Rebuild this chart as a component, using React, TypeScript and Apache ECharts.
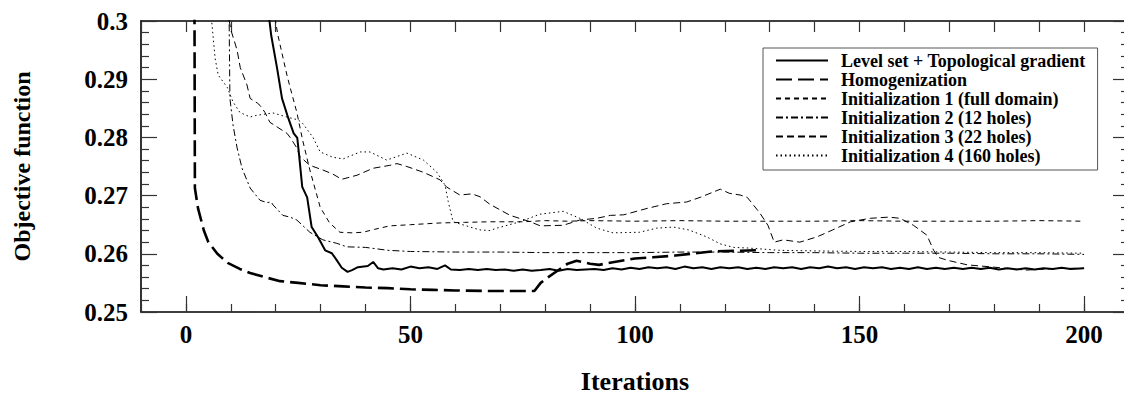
import React, { useEffect, useRef } from "react";
import * as echarts from "echarts";

const seriesNames = [
  "Level set + Topological gradient",
  "Homogenization",
  "Initialization 1 (full domain)",
  "Initialization 2 (12 holes)",
  "Initialization 3 (22 holes)",
  "Initialization 4 (160 holes)",
];

const xTickLabels = ["0", "50", "100", "150", "200"];
const yTickLabels = ["0.25", "0.26", "0.27", "0.28", "0.29", "0.3"];

const levelSet: number[][] = [
  [18.3, 0.302], [19, 0.2975], [20.3, 0.2919], [21.4, 0.2867], [22.8, 0.2833], [24, 0.2807],
  [24.8, 0.2799], [25.2, 0.277], [25.9, 0.2715], [27, 0.2697], [28, 0.2646], [29.4, 0.2629],
  [31, 0.2606], [32.5, 0.2601], [33.5, 0.259], [34.7, 0.2576], [36, 0.2569], [37, 0.2572],
  [38.3, 0.2577], [40.5, 0.2579], [41.7, 0.2586], [42.8, 0.2575], [44, 0.2573], [46, 0.2575],
  [48, 0.2573], [50, 0.2578], [52, 0.2575], [54, 0.2577], [56, 0.2574], [57.7, 0.258],
  [59, 0.2573], [61, 0.2572], [63, 0.2574], [65, 0.2572], [67, 0.2574], [69, 0.2572],
  [71, 0.2573], [73, 0.2571], [75, 0.2573], [77, 0.2571], [79, 0.2572], [81, 0.2574],
  [83, 0.2571], [85, 0.2574], [87, 0.2572], [89, 0.2573], [91, 0.2574], [93, 0.2572],
  [95, 0.2575], [97, 0.2573], [99, 0.2576], [101, 0.2574], [103, 0.2577], [105, 0.2575],
  [107, 0.2577], [109, 0.2574], [111, 0.2578], [113, 0.2575], [115, 0.2577], [117, 0.2574],
  [119, 0.2577], [121, 0.2575], [123, 0.2577], [125, 0.2574], [127, 0.2576], [129, 0.2574],
  [131, 0.2577], [133, 0.2575], [135, 0.2577], [137, 0.2574], [139, 0.2577], [141, 0.2575],
  [143, 0.2578], [145, 0.2575], [147, 0.2577], [149, 0.2574], [151, 0.2577], [153, 0.2575],
  [155, 0.2577], [157, 0.2574], [159, 0.2576], [161, 0.2574], [163, 0.2577], [165, 0.2574],
  [167, 0.2576], [169, 0.2574], [171, 0.2576], [173, 0.2574], [175, 0.2576], [177, 0.2574],
  [179, 0.2576], [181, 0.2573], [183, 0.2575], [185, 0.2573], [187, 0.2575], [189, 0.2573],
  [191, 0.2575], [193, 0.2574], [195, 0.2576], [197, 0.2574], [200, 0.2575],
];

const homogenization: number[][] = [
  [1.8, 0.34], [2, 0.2713], [2.7, 0.2678], [4, 0.264], [5, 0.262], [7, 0.26], [9.4, 0.2584],
  [12, 0.2574], [14.3, 0.2567], [18, 0.2559], [21, 0.2553], [25, 0.255], [30, 0.2546],
  [35, 0.2544], [40, 0.2542], [45, 0.2541], [50, 0.2539], [55, 0.2538], [60, 0.2537],
  [68, 0.2536], [77.6, 0.2536], [79, 0.255], [80.5, 0.2559], [85, 0.2583], [87, 0.2588],
  [90, 0.2583], [92, 0.2581], [94, 0.2584], [100, 0.2592], [104, 0.2594], [109, 0.2597],
  [117, 0.2604], [127, 0.2606],
];

const init1: number[][] = [
  [19.5, 0.302], [20.5, 0.2975], [22.5, 0.2907], [23.2, 0.2886], [24.7, 0.2843], [26, 0.2795],
  [27.6, 0.2744], [29.9, 0.268], [32, 0.2653], [34.3, 0.2637], [37, 0.2636], [39.4, 0.2637],
  [42, 0.2642], [45.4, 0.2648], [50, 0.265], [56.6, 0.2653], [62, 0.2654], [67.7, 0.2655],
  [75, 0.2655], [80, 0.2657], [85, 0.2656], [90, 0.2657], [100, 0.2656], [110, 0.2657],
  [120, 0.2656], [130, 0.2656], [140, 0.2656], [150, 0.2657], [160, 0.2656], [170, 0.2656],
  [180, 0.2656], [190, 0.2657], [200, 0.2656],
];

const init2: number[][] = [
  [9.6, 0.302], [9.8, 0.2867], [10.5, 0.2821], [11.4, 0.2782], [12.5, 0.2747], [14.3, 0.2713],
  [16.5, 0.2692], [18, 0.2688], [19, 0.2689], [19.4, 0.2684], [21.6, 0.2666], [23.2, 0.2663],
  [24.7, 0.2658], [27.6, 0.2637], [30.5, 0.2624], [33.6, 0.2618], [35.8, 0.2612], [40, 0.2611],
  [45, 0.2606], [50, 0.2604], [60, 0.2603], [70, 0.2603], [80, 0.2602], [90, 0.2602],
  [100, 0.2602], [110, 0.2603], [120, 0.2603], [130, 0.2602], [140, 0.2602], [150, 0.2601],
  [160, 0.2601], [170, 0.2601], [180, 0.26], [190, 0.26], [200, 0.2599],
];

const init3: number[][] = [
  [9.2, 0.302], [10, 0.2985], [11.4, 0.295], [12.1, 0.292], [13.6, 0.289], [14.3, 0.2867],
  [15.9, 0.2859], [16.5, 0.2855], [17.6, 0.2843], [18.7, 0.2826], [20.3, 0.2818], [22.5, 0.2807],
  [23.2, 0.28], [24.7, 0.2782], [25.4, 0.2767], [27.6, 0.2752], [30.5, 0.2744], [32.7, 0.2737],
  [34.7, 0.2728], [38.1, 0.2735], [41.7, 0.2747], [45.4, 0.2752], [47, 0.2755], [49.2, 0.275],
  [52.9, 0.274], [56.6, 0.2727], [58, 0.2715], [61, 0.2701], [63.7, 0.2703], [65.5, 0.2698],
  [67.7, 0.2685], [72.2, 0.2666], [76.7, 0.2655], [78.9, 0.2648], [84, 0.2649], [87.7, 0.2658],
  [91.5, 0.2661], [94.5, 0.2666], [97.5, 0.2667], [102.7, 0.2678], [107, 0.2686], [111.5, 0.2689],
  [114.5, 0.2697], [119, 0.2711], [121, 0.2704], [123.4, 0.2701], [125, 0.2697], [127.8, 0.267],
  [129.6, 0.2649], [131, 0.262], [133, 0.2624], [136.7, 0.262], [140.5, 0.2629], [144, 0.2641],
  [148, 0.2655], [152.4, 0.2661], [156.5, 0.2663], [159, 0.2661], [162, 0.2649], [165, 0.2632],
  [166.5, 0.2606], [167.5, 0.2594], [169.5, 0.2589], [174, 0.2581], [180, 0.2577], [187, 0.2572],
  [194.7, 0.2575], [200, 0.2575],
];

const init4: number[][] = [
  [5.5, 0.302], [6.5, 0.2936], [7.2, 0.2907], [9.2, 0.2886], [10.5, 0.2861], [12, 0.2843],
  [14.3, 0.2835], [15.8, 0.2838], [19.4, 0.2842], [22.5, 0.2835], [25, 0.283], [26, 0.2824],
  [28.3, 0.28], [29.9, 0.2775], [32.7, 0.2766], [35, 0.2763], [38.8, 0.2775], [41, 0.2775],
  [44.7, 0.2761], [49.2, 0.2773], [52.9, 0.2761], [55.9, 0.274], [57.7, 0.2718], [58.4, 0.269],
  [59.5, 0.2655], [63.3, 0.2646], [65.5, 0.2641], [67.7, 0.264], [69.2, 0.2644], [74.4, 0.2655],
  [78.8, 0.2668], [84, 0.2673], [87.7, 0.2661], [91.5, 0.2644], [95.1, 0.2636], [101, 0.2637],
  [104.8, 0.2644], [108.5, 0.2646], [112, 0.2641], [116, 0.2629], [119, 0.2617], [122, 0.2611],
  [125, 0.261], [128.6, 0.2608], [132, 0.2606], [140, 0.2605], [150, 0.2604], [160, 0.2604],
  [170, 0.2603], [180, 0.2602], [190, 0.2602], [200, 0.2601],
];

const FONT = "'Liberation Serif', 'Times New Roman', Times, serif";

export default function App() {
  const ref = useRef<HTMLDivElement>(null);

  useEffect(() => {
    if (!ref.current) return;
    const chart = echarts.init(ref.current, null, { renderer: "svg" });

    const seriesData = [levelSet, homogenization, init1, init2, init3, init4];
    const styles: any[] = [
      { width: 2, type: "solid" },
      { width: 2.6, type: [16, 6] },
      { width: 1, type: [5, 4] },
      { width: 1, type: [7, 3, 2, 3] },
      { width: 1, type: [7, 4] },
      { width: 1, type: [1.5, 3] },
    ];

    const tickStyle = { color: "#333", width: 1.2 };
    const axisLineStyle = { color: "#000", width: 1.6 };

    chart.setOption({
      animation: false,
      backgroundColor: "#fff",
      grid: [
        { left: 141, top: 21, width: 988, height: 291, outerBoundsMode: "none", containLabel: false },
        { left: 185.9, top: 21, width: 898.2, height: 291, outerBoundsMode: "none", containLabel: false },
      ],
      xAxis: [
        {
          gridIndex: 0, type: "value", position: "bottom", min: -10, max: 210, interval: 10,
          axisLine: { show: true, lineStyle: axisLineStyle },
          axisTick: { show: true, inside: true, length: 8, lineStyle: tickStyle },
          axisLabel: { show: false }, splitLine: { show: false },
        },
        {
          gridIndex: 0, type: "value", position: "top", min: -10, max: 210, interval: 10,
          axisLine: { show: true, onZero: false, lineStyle: axisLineStyle },
          axisTick: { show: true, inside: true, length: 11, lineStyle: tickStyle },
          axisLabel: { show: false }, splitLine: { show: false },
        },
        {
          gridIndex: 1, type: "value", position: "bottom", min: 0, max: 200, interval: 50,
          axisLine: { show: false },
          axisTick: { show: true, inside: true, length: 16, lineStyle: tickStyle },
          axisLabel: {
            show: true, margin: 10, color: "#000", fontFamily: FONT, fontWeight: "bold", fontSize: 25,
            formatter: (v: number) => xTickLabels[Math.round(v / 50)] ?? "",
          },
          splitLine: { show: false },
          name: "Iterations", nameLocation: "middle", nameGap: 57,
          nameTextStyle: { color: "#000", fontFamily: FONT, fontWeight: "bold", fontSize: 26, lineHeight: 24 },
        },
      ],
      yAxis: [
        {
          gridIndex: 0, type: "value", position: "left", min: 0.25, max: 0.3, interval: 0.01,
          axisLine: { show: true, onZero: false, lineStyle: axisLineStyle },
          axisTick: { show: true, inside: true, length: 16, lineStyle: tickStyle },
          minorTick: { show: true, splitNumber: 5, length: 8, lineStyle: tickStyle },
          axisLabel: {
            show: true, margin: 13, color: "#000", fontFamily: FONT, fontWeight: "bold", fontSize: 25,
            formatter: (v: number) => yTickLabels[Math.round((v - 0.25) / 0.01)] ?? "",
          },
          splitLine: { show: false },
          name: "Objective function", nameLocation: "middle", nameGap: 107,
          nameTextStyle: { color: "#000", fontFamily: FONT, fontWeight: "bold", fontSize: 24 },
        },
        {
          gridIndex: 0, type: "value", position: "right", min: 0.25, max: 0.3, interval: 0.01,
          axisLine: { show: true, onZero: false, lineStyle: axisLineStyle },
          axisTick: { show: true, inside: true, length: 16, lineStyle: tickStyle },
          minorTick: { show: true, splitNumber: 5, length: 8, lineStyle: tickStyle },
          axisLabel: { show: false }, splitLine: { show: false },
        },
        { gridIndex: 1, type: "value", min: 0, max: 1, show: false },
      ],
      legend: {
        show: true,
        orient: "vertical",
        left: 763,
        top: 48,
        data: seriesNames,
        selectedMode: false,
        itemWidth: 52,
        itemHeight: 19,
        itemGap: 0,
        padding: [3, 12, 5, 12],
        backgroundColor: "#fff",
        borderColor: "#555",
        borderWidth: 1,
        itemStyle: { opacity: 0, borderWidth: 0 },
        textStyle: {
          color: "#000", fontFamily: FONT, fontWeight: "bold", fontSize: 18, lineHeight: 19,
          padding: [0, 0, 0, 8],
        },
      },
      series: seriesNames.map((name, i) => ({
        name,
        type: "line",
        xAxisIndex: 0,
        yAxisIndex: 0,
        data: seriesData[i],
        symbol: "none",
        showSymbol: false,
        smooth: false,
        clip: true,
        color: "#000",
        lineStyle: { color: "#000", ...styles[i] },
        z: 10 - i,
      })),
    });

    return () => chart.dispose();
  }, []);

  return (
    <div
      ref={ref}
      style={{ position: "absolute", left: 0, top: 0, width: 1124, height: 396 }}
    />
  );
}
